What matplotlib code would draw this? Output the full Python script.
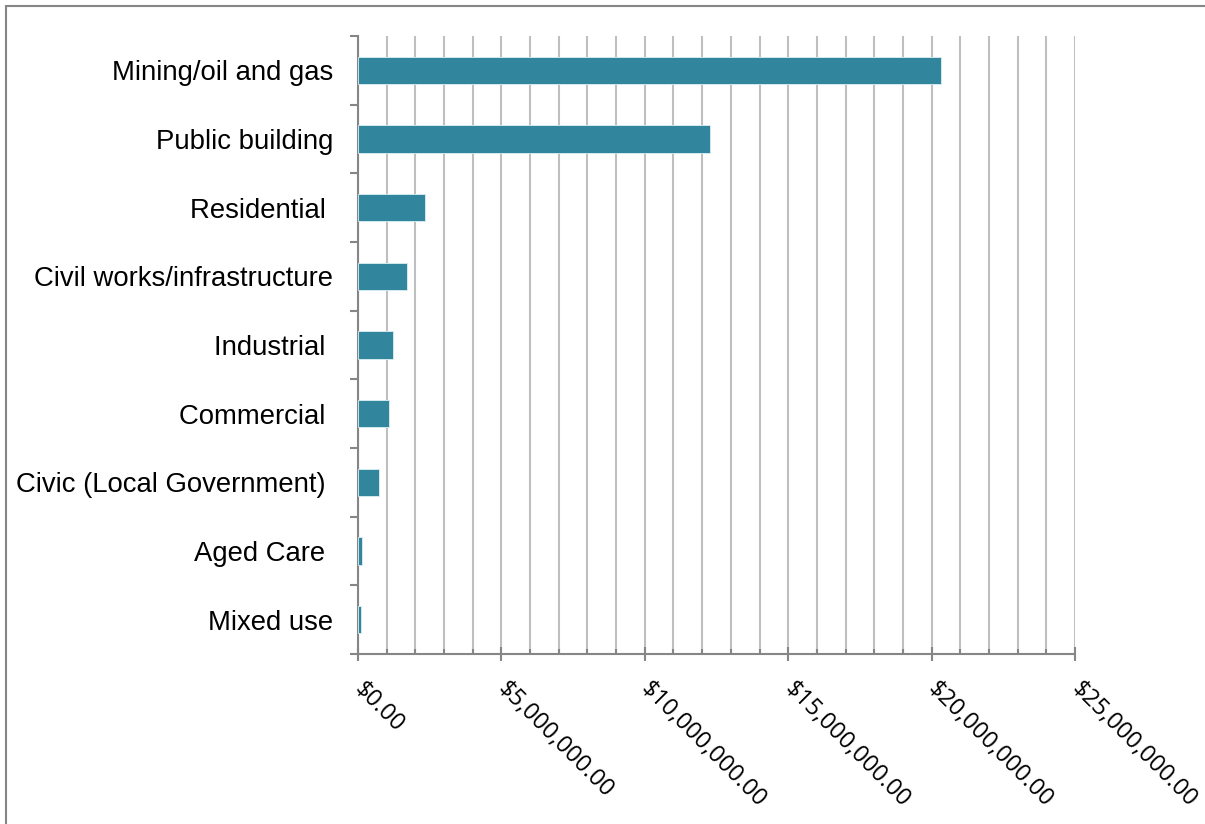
import numpy as np
import matplotlib.pyplot as plt
import matplotlib.transforms as mtransforms
from matplotlib.patches import Rectangle
from matplotlib.ticker import FuncFormatter, MultipleLocator

# datos
categorias = ['Mining/oil and gas', 'Public building', 'Residential ',
              'Civil works/infrastructure', 'Industrial ', 'Commercial ',
              'Civic (Local Government) ', 'Aged Care ', 'Mixed use']
valores = [20330000, 12270000, 2350000, 1710000, 1220000, 1080000,
           730000, 140000, 100000]

color_barra = '#31859C'
gris_eje = '#868686'
gris_rejilla = '#BFBFBF'

fig = plt.figure(figsize=(12.05, 8.24), dpi=100)
ax = fig.add_axes([358/1205, 1-654/824, (1075-358)/1205, (654-36)/824])

y = np.arange(len(categorias))
ax.barh(y, valores, height=0.4, color=color_barra, edgecolor='#DCEFF3',
        linewidth=0.6, zorder=3)

ax.set_xlim(0, 25000000)
ax.set_ylim(len(categorias)-0.5, -0.5)

# ejes
ax.xaxis.set_major_locator(MultipleLocator(5000000))
ax.xaxis.set_minor_locator(MultipleLocator(1000000))
ax.xaxis.set_major_formatter(FuncFormatter(lambda v, p: '${:,.2f}'.format(v)))
ax.grid(axis='x', which='both', color=gris_rejilla, linewidth=1.5, zorder=0)
ax.tick_params(axis='x', which='major', direction='inout', length=10,
               width=1.5, color=gris_eje, pad=12)
ax.tick_params(axis='x', which='minor', direction='in', length=3.5,
               width=1.5, color=gris_eje)
desplaza = mtransforms.ScaledTranslation(-9/100, 0, fig.dpi_scale_trans)
for lab in ax.get_xticklabels():
    lab.set_rotation(-45)
    lab.set_ha('left')
    lab.set_va('top')
    lab.set_fontsize(17)
    lab.set_fontfamily('Open Sans')
    lab.set_transform(lab.get_transform() + desplaza)

ax.set_yticks(y)
ax.set_yticklabels(categorias, fontsize=19.8, fontfamily='Liberation Sans')
ax.set_yticks(np.arange(len(categorias)+1)-0.5, minor=True)
ax.tick_params(axis='y', which='major', length=0, pad=18)
ax.tick_params(axis='y', which='minor', direction='out', length=6,
               width=1.5, color=gris_eje)

for s in ['top', 'right']:
    ax.spines[s].set_visible(False)
for s in ['left', 'bottom']:
    ax.spines[s].set_color(gris_eje)
    ax.spines[s].set_linewidth(1.5)

# marco del grafico
fig.patches.append(Rectangle((6/1205, -0.1), 1.2, 1.1-6/824, fill=False,
                             edgecolor=gris_eje, linewidth=1.5,
                             transform=fig.transFigure))

plt.savefig('out.png', dpi=100)
